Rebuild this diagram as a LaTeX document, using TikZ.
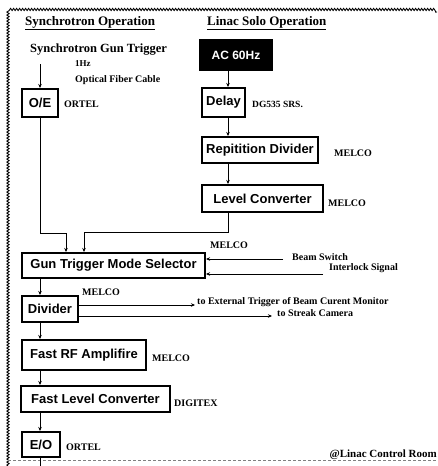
\documentclass[tikz,border=0pt]{standalone}
\usepackage{fontspec}
\setmainfont{Liberation Serif}
\setsansfont{Liberation Sans}
\usetikzlibrary{positioning,arrows.meta,decorations.pathmorphing}

\begin{document}
\begin{tikzpicture}[x=1pt, y=-1pt,
    unit/.style={draw, line width=2pt, fill=white, inner sep=0pt, font=\sffamily\bfseries\fontsize{13}{15}\selectfont},
    lbl/.style={anchor=west, inner sep=0pt, font=\bfseries\fontsize{10}{12}\selectfont},
    head/.style={anchor=west, inner sep=0pt, font=\bfseries\fontsize{13}{15}\selectfont},
    arr/.style={-{Stealth[length=4pt,width=3.5pt]}, line width=0.8pt},
    wavy/.style={decorate, decoration={snake, amplitude=1.1pt, segment length=3pt}, line width=0.9pt}
]
\useasboundingbox (0,0) rectangle (437,466);
% border
\draw[wavy] (8,466) -- (8,12) -- (437,12);
\draw[densely dashed, gray, line width=0.5pt] (8,460) -- (437,460);

% headers
\node[head] (hsyn) at (25,23) {\underline{Synchrotron Operation}};
\node[head] (hlin) at (207,23) {\underline{Linac Solo Operation}};

% Synchrotron side
\node[head, font=\bfseries\fontsize{12.5}{14}\selectfont] (trig) at (30,50) {Synchrotron Gun Trigger};
\node[lbl, font=\bfseries\fontsize{9}{10}\selectfont] (hz) at (75,64) {1Hz};
\node[lbl] (ofc) at (75,80) {Optical Fiber Cable};
\coordinate (trigin) at (40,64);
\node[unit, minimum width=36pt, minimum height=28pt] (oe) at (40,103) {O/E};
\node[lbl] (ortel1) at (64,104) {ORTEL};

% Linac side
\node[unit, fill=black, text=white, minimum width=72pt, minimum height=30pt] (ac) at (236,55) {\fontsize{12}{14}\selectfont AC 60Hz};
\node[unit, minimum width=43pt, minimum height=29pt] (delay) at (223.5,102.5) {Delay};
\node[lbl, font=\bfseries\fontsize{9.5}{11}\selectfont] (dg) at (252,104) {DG535 SRS.};
\node[unit, minimum width=116pt, minimum height=26pt] (rep) at (260,150) {Repitition Divider};
\node[lbl] (melco1) at (334,153) {MELCO};
\node[unit, minimum width=121pt, minimum height=27pt] (lvl) at (262.5,198.5) {Level Converter};
\node[lbl] (melco2) at (328,203) {MELCO};
\coordinate (rc) at (228,0);

% common chain
\coordinate (lc) at (40,0);
\node[unit, minimum width=183pt, minimum height=25pt] (sel) at (113.5,265.5) {Gun Trigger Mode Selector};
\node[lbl] (melco3) at (210,245) {MELCO};
\coordinate (bsin) at (283,259);
\coordinate (ilin) at (323,274);
\node[lbl] (bs) at (292,257) {Beam Switch};
\node[lbl] (il) at (329,268) {Interlock Signal};
\node[unit, minimum width=56pt, minimum height=26pt] (div) at (50,309) {Divider};
\node[lbl] (melco4) at (82,292) {MELCO};
\coordinate (extout) at (195,305);
\coordinate (stkout) at (272,316);
\node[lbl] (ext) at (197,302) {to External Trigger of Beam Curent Monitor};
\node[lbl] (stk) at (277,313) {to Streak Camera};
\node[unit, minimum width=124pt, minimum height=30pt] (rf) at (84,355) {Fast RF Amplifire};
\node[lbl] (melco5) at (152,358) {MELCO};
\node[unit, minimum width=149pt, minimum height=26pt] (flc) at (95.5,399) {Fast Level Converter};
\node[lbl] (digitex) at (174,403) {DIGITEX};
\node[unit, minimum width=38pt, minimum height=25pt] (eo) at (41,444.5) {E/O};
\node[lbl] (ortel2) at (66,447) {ORTEL};
\coordinate (eoout) at (40,466);
\node[head, font=\bfseries\fontsize{11}{13}\selectfont, anchor=east] (room) at (437,455) {@Linac Control Room};

% connectors
\draw[arr] (trigin) -- (trigin |- oe.north);
\draw[arr] (ac.south -| rc) -- (delay.north -| rc);
\draw[arr] (delay.south -| rc) -- (rep.north -| rc);
\draw[arr] (rep.south -| rc) -- (lvl.north -| rc);
\coordinate (m1) at (66,233);
\coordinate (m2) at (84,232);
\draw[arr] (oe.south -| lc) |- (m1) -- (m1 |- sel.north);
\draw[arr] (lvl.south -| rc) |- (m2) -- (m2 |- sel.north);
\draw[arr] (bsin) -- (bsin -| sel.east);
\draw[arr] (ilin) -- (ilin -| sel.east);
\draw[arr] (sel.south -| lc) -- (div.north -| lc);
\draw[arr] (extout -| div.east) -- (extout);
\draw[arr] (stkout -| div.east) -- (stkout);
\draw[arr] (div.south -| lc) -- (rf.north -| lc);
\draw[arr] (rf.south -| lc) -- (flc.north -| lc);
\draw[arr] (flc.south -| lc) -- (eo.north -| lc);
\draw[line width=0.8pt] (eo.south -| lc) -- (eoout);
\end{tikzpicture}
\end{document}
